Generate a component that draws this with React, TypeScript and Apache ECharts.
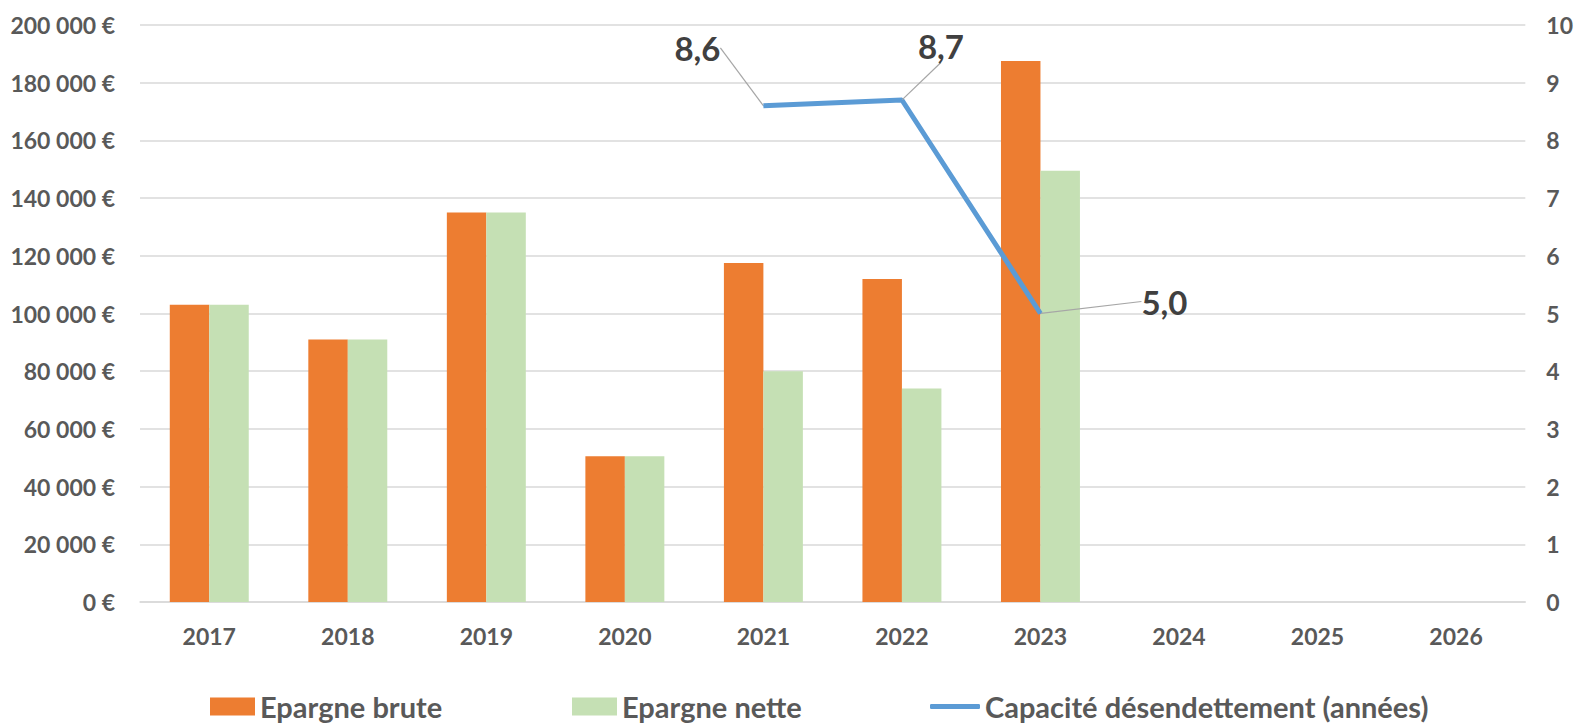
import React, { useEffect, useRef } from "react";
import * as echarts from "echarts";

const categories = ["2017", "2018", "2019", "2020", "2021", "2022", "2023", "2024", "2025", "2026"];
const epargneBrute = [103000, 91000, 135000, 50500, 117500, 112000, 187500, null, null, null];
const epargneNette = [103000, 91000, 135000, 50500, 80000, 74000, 149500, null, null, null];
const capacite = [null, null, null, null, 8.6, 8.7, 5.0, null, null, null];
const labelShifts = [
  [0, 0], [0, 0], [0, 0], [0, 0],
  [-66, -36], [39, -32], [124, 10],
  [0, 0], [0, 0], [0, 0],
];

const FONT = "Lato";
const AXIS_COLOR = "#595959";

function fmtEuro(v: number) {
  return String(v).replace(/\B(?=(\d{3})+(?!\d))/g, " ") + " €";
}

export default function App() {
  const ref = useRef<HTMLDivElement>(null);
  useEffect(() => {
    if (!ref.current) return;
    const chart = echarts.init(ref.current, null, { renderer: "svg" });
    const legendText = { fontFamily: FONT, fontWeight: "bold", fontSize: 29, color: AXIS_COLOR };
    chart.setOption({
      animation: false,
      backgroundColor: "#ffffff",
      grid: { left: 140, right: 49, top: 25, bottom: 122, containLabel: false },
      legend: [
        {
          data: [{ name: "Epargne brute", icon: "rect" }],
          left: 210, top: 692, itemWidth: 45, itemHeight: 18,
          textStyle: legendText, padding: 0,
        },
        {
          data: [{ name: "Epargne nette", icon: "rect" }],
          left: 572, top: 692, itemWidth: 45, itemHeight: 18,
          textStyle: legendText, padding: 0,
        },
        {
          data: [{ name: "Capacité désendettement (années)", icon: "roundRect" }],
          left: 930, top: 692, itemWidth: 50, itemHeight: 5,
          textStyle: legendText, padding: 0,
        },
      ],
      xAxis: {
        type: "category",
        data: categories,
        axisLine: { lineStyle: { color: "#D9D9D9", width: 1.5 } },
        axisTick: { show: false },
        axisLabel: { color: AXIS_COLOR, fontFamily: FONT, fontWeight: "bold", fontSize: 23, margin: 22 },
      },
      yAxis: [
        {
          type: "value",
          min: 0, max: 200000, interval: 20000,
          axisLine: { show: false },
          axisTick: { show: false },
          splitLine: { lineStyle: { color: "#D9D9D9", width: 1.5 } },
          axisLabel: {
            color: AXIS_COLOR, fontFamily: FONT, fontWeight: "bold", fontSize: 23, margin: 25,
            formatter: (v: number) => fmtEuro(v),
          },
        },
        {
          type: "value",
          min: 0, max: 10, interval: 1,
          axisLine: { show: false },
          axisTick: { show: false },
          splitLine: { show: false },
          axisLabel: { color: AXIS_COLOR, fontFamily: FONT, fontWeight: "bold", fontSize: 23, margin: 21 },
        },
      ],
      series: [
        {
          name: "Epargne brute",
          type: "bar",
          data: epargneBrute,
          itemStyle: { color: "#ED7D31" },
          barGap: "0%",
          barCategoryGap: "43%",
        },
        {
          name: "Epargne nette",
          type: "bar",
          data: epargneNette,
          itemStyle: { color: "#C5E0B4" },
          barGap: "0%",
          barCategoryGap: "43%",
        },
        {
          name: "Capacité désendettement (années)",
          type: "line",
          yAxisIndex: 1,
          data: capacite,
          symbol: "circle",
          symbolSize: 1,
          showSymbol: true,
          lineStyle: { color: "#5B9BD5", width: 5 },
          itemStyle: { color: "#5B9BD5" },
          label: {
            show: true,
            position: "top",
            distance: 5,
            color: "#404040",
            fontFamily: FONT,
            fontWeight: "bold",
            fontSize: 33,
            formatter: (p: any) => (p.value == null ? "" : Number(p.value).toFixed(1).replace(".", ",")),
          },
          labelLine: { show: true, lineStyle: { color: "#A6A6A6", width: 1.2 } },
          labelLayout: (p: any) => {
            const s = labelShifts[p.dataIndex] || [0, 0];
            return { dx: s[0], dy: s[1] };
          },
        },
      ],
    });
    return () => chart.dispose();
  }, []);
  return <div ref={ref} style={{ width: 1576, height: 724, position: "absolute", left: 0, top: 0 }} />;
}
